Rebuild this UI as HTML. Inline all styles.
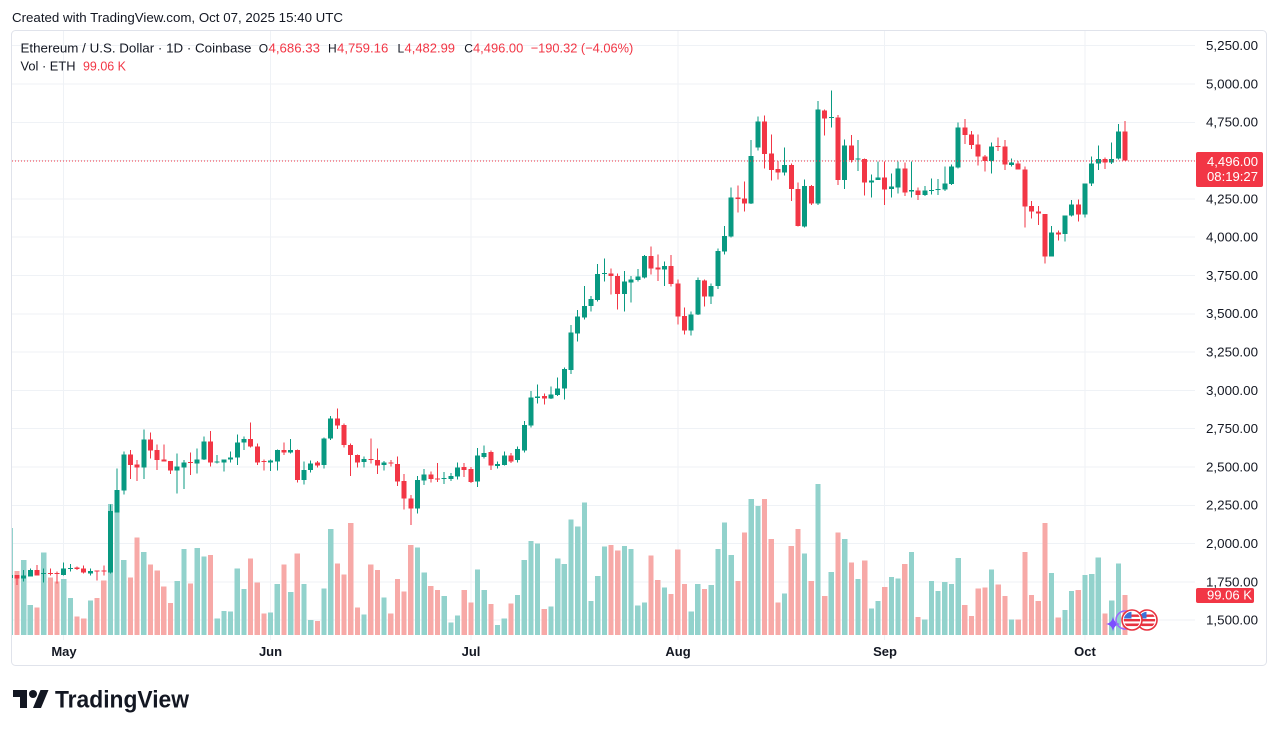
<!DOCTYPE html>
<html><head><meta charset="utf-8">
<style>
html,body{margin:0;padding:0;background:#fff;}
body{width:1280px;height:733px;overflow:hidden;}
svg{display:block;font-family:"Liberation Sans",Arial,sans-serif;}
</style></head>
<body>
<svg id="s" width="1280" height="733" viewBox="0 0 1280 733" xmlns="http://www.w3.org/2000/svg">
<defs>
<clipPath id="pane"><rect x="12" y="31" width="1183" height="609"/></clipPath>
<clipPath id="fc"><circle r="8.2"/></clipPath>
</defs>
<rect width="1280" height="733" fill="#fff"/>
<text x="12" y="22" font-size="13" fill="#131722" textLength="331" lengthAdjust="spacingAndGlyphs">Created with TradingView.com, Oct 07, 2025 15:40 UTC</text>
<rect x="11.5" y="30.5" width="1255" height="635" rx="4" fill="#fff" stroke="#e0e3eb"/>
<g id="grid" stroke="#eff2f6" stroke-width="1" shape-rendering="crispEdges"></g>
<g clip-path="url(#pane)">
<g id="vol" shape-rendering="crispEdges"></g>
<g id="cand" shape-rendering="crispEdges"></g>
</g>
<line x1="12" y1="161" x2="1195" y2="161" stroke="#F23645" stroke-width="1" stroke-dasharray="1,2"/>

<!-- legend -->
<g font-size="13" fill="#131722">
<text x="20.5" y="52.5" textLength="231" lengthAdjust="spacingAndGlyphs">Ethereum / U.S. Dollar · 1D · Coinbase</text>
<text x="258.8" y="52.5" font-size="12">O</text>
<text x="268.5" y="52.5" fill="#F23645" textLength="51.5" lengthAdjust="spacingAndGlyphs">4,686.33</text>
<text x="328" y="52.5" font-size="12">H</text>
<text x="337" y="52.5" fill="#F23645" textLength="51.3" lengthAdjust="spacingAndGlyphs">4,759.16</text>
<text x="397.5" y="52.5" font-size="12">L</text>
<text x="404.5" y="52.5" fill="#F23645" textLength="50.5" lengthAdjust="spacingAndGlyphs">4,482.99</text>
<text x="464.3" y="52.5" font-size="12">C</text>
<text x="473" y="52.5" fill="#F23645" textLength="50.3" lengthAdjust="spacingAndGlyphs">4,496.00</text>
<text x="530.7" y="52.5" fill="#F23645" textLength="102.6" lengthAdjust="spacingAndGlyphs">−190.32 (−4.06%)</text>
<text x="20.5" y="70.5" textLength="55" lengthAdjust="spacingAndGlyphs">Vol · ETH</text>
<text x="83" y="70.5" fill="#F23645" textLength="43" lengthAdjust="spacingAndGlyphs">99.06 K</text>
</g>

<g id="plabels" font-size="13" fill="#131722" text-anchor="end"></g>

<!-- current price label -->
<rect x="1196" y="152" width="67" height="35" rx="2" fill="#F23645"/>
<g font-size="13" fill="#fff" text-anchor="end">
<text x="1258" y="166" textLength="51" lengthAdjust="spacingAndGlyphs">4,496.00</text>
<text x="1258" y="181" textLength="51" lengthAdjust="spacingAndGlyphs">08:19:27</text>
</g>
<!-- volume label -->
<rect x="1196" y="588" width="58" height="15" rx="2" fill="#F23645"/>
<text x="1252" y="599.5" font-size="13" fill="#fff" text-anchor="end" textLength="45" lengthAdjust="spacingAndGlyphs">99.06 K</text>

<!-- time axis -->
<g font-size="13" font-weight="bold" fill="#131722" text-anchor="middle">
<text x="64" y="656">May</text>
<text x="270.5" y="656">Jun</text>
<text x="471" y="656">Jul</text>
<text x="678" y="656">Aug</text>
<text x="885" y="656">Sep</text>
<text x="1085" y="656">Oct</text>
</g>

<!-- event icons -->
<path d="M1113 616.5 Q1114 623 1120 624 Q1114 625 1113 631.5 Q1112 625 1106 624 Q1112 623 1113 616.5Z" fill="#7c4dff"/>
<circle cx="1125" cy="620" r="9" fill="none" stroke="#9b6bff" stroke-width="1.6"/>
<g transform="translate(1147,620)">
<circle r="10" fill="#fff" stroke="#e8323f" stroke-width="1.6"/>
<g clip-path="url(#fc)">
<rect x="-9" y="-9" width="18" height="18" fill="#fff"/>
<rect x="-9" y="-5.5" width="18" height="2.4" fill="#e8323f"/>
<rect x="-9" y="-1" width="18" height="2.4" fill="#e8323f"/>
<rect x="-9" y="3.5" width="18" height="2.6" fill="#e8323f"/>
<rect x="-9" y="-9" width="8.5" height="7.5" fill="#3d72d9"/>
</g></g>
<g transform="translate(1132,620)">
<circle r="10" fill="#fff" stroke="#e8323f" stroke-width="1.6"/>
<g clip-path="url(#fc)">
<rect x="-9" y="-9" width="18" height="18" fill="#fff"/>
<rect x="-9" y="-5.5" width="18" height="2.4" fill="#e8323f"/>
<rect x="-9" y="-1" width="18" height="2.4" fill="#e8323f"/>
<rect x="-9" y="3.5" width="18" height="2.6" fill="#e8323f"/>
<rect x="-9" y="-9" width="8.5" height="7.5" fill="#3d72d9"/>
</g></g>

<!-- logo -->
<g transform="translate(13,686)" fill="#131722"><path d="M14 22H7V11H0V4h14v18zM28 22h-8l7.5-18h8L28 22z"/><circle cx="20" cy="8" r="4"/></g>
<text x="55" y="707.5" font-size="24" font-weight="bold" fill="#131722" textLength="134" lengthAdjust="spacingAndGlyphs">TradingView</text>
</svg>
<script>
(function(){
var D=[
[1,575,578,573,580,528],
[0,575,578.3,575,585,571],
[1,575.7,578.3,570,581.7,560],
[1,570,576.7,568.3,576.7,605],
[0,570,575.7,565,575.7,607.7],
[1,573,574,568.3,582.7,552.3],
[0,573,574,568.3,575.7,577.3],
[0,573,574,571.7,583.3,581.7],
[1,568.3,575,562.3,575.7,579],
[1,568,569,564,571.7,598],
[0,567.7,569,566.7,570,616.3],
[0,568.3,572.7,565.7,573.3,618.3],
[1,571,573.3,568.3,575.7,600.3],
[0,570.7,571.7,570.7,580.7,598],
[0,570.7,571.7,565.7,575.7,580.3],
[1,511,572.3,504.3,573.3,504],
[1,490,512.3,468.3,512.3,506],
[1,454.3,490.7,451.7,494.3,560],
[0,454.3,465,450,479,577.3],
[0,464.3,467.7,460,481,537.3],
[1,439.3,467.7,429.3,479,552],
[0,439.3,450.7,432.3,458.3,564.7],
[0,450,460,444.3,470,570.3],
[0,459.3,461.7,444.3,461.7,586.3],
[0,461,470.7,461,474,603],
[1,466.7,470.7,453.3,493.3,581],
[1,462.7,467.3,460,489,549],
[0,462,463,452.7,475,583.7],
[1,459.3,463.3,448.3,473.3,548],
[1,441.7,459.3,436.7,460,556.7],
[0,441.7,462.7,431,466.7,555],
[1,461.3,462.3,455,463.3,618.3],
[1,459.3,462.3,459.3,471.7,611],
[1,457.3,459.3,451.7,462.7,611.7],
[1,442.3,457.3,434.3,465,568.3],
[1,439,442.3,436.7,450,589],
[0,439,446.7,422.7,447.7,558.7],
[0,446.7,462.7,443.3,465,582.7],
[0,461,462,459.3,470.7,613.7],
[1,460.7,462.7,459.3,471,612.7],
[1,450,461.7,449.3,470.7,584],
[0,450,452.3,442.7,455,564.7],
[1,450,452.3,439,453.3,592],
[0,450,480,449.3,482.7,553.3],
[1,470,480,461.7,484.3,584],
[1,463.3,470,460.7,472.7,620],
[0,462.7,465.3,461,467.7,621],
[1,438.3,465,437.7,468.3,588.7],
[1,418.3,438.3,416,440,529],
[0,418.3,425.7,408.3,429,563.7],
[0,425,445,423.3,447.7,574.7],
[0,445,455,443.3,476,523],
[0,455,462.3,454.3,467.7,607.7],
[1,459,462,456.7,467.7,614.3],
[0,459,460,438.3,463.3,564.7],
[0,460,465.7,448.3,474,570],
[1,462.3,465,461,470.7,597.3],
[0,462.3,463,460,466.7,613.7],
[0,464,481.7,456.7,486,579],
[0,481,498.3,474,509.3,591.7],
[0,498.3,508.3,495,525,545],
[1,480,508.3,476,513.3,547.7],
[1,474.3,480.7,469,485,572.7],
[0,474.3,479,471.7,482.3,586],
[0,478.5,479.5,463,482,590],
[1,478.2,479.2,472,484,596],
[1,476,479,473,481,622.7],
[1,467.7,476.7,462.7,479.3,615.7],
[0,467,470,463,477,590],
[0,469,482,467,483,602.7],
[1,455.7,481.7,448,487,569.3],
[1,453,457,445.7,458.3,590],
[0,452,465.7,450.7,470,604],
[1,464,466,461.7,468.3,625],
[1,455.7,465,451.7,465.7,618.3],
[0,455.7,461.7,453,463,603.3],
[1,449,460,446.7,462.7,595],
[1,425,450.7,421,452.3,560],
[1,397.7,425.7,391,427.3,541],
[1,396.7,398,384.3,403.3,543.3],
[0,396,398.7,393.3,404.3,609],
[1,394.3,398.7,386.7,399,606.7],
[1,388.3,395,377.3,396,558.3],
[1,369,388.3,367.7,399.3,564],
[1,332.7,370,325,374,519.3],
[1,316.7,333.3,310,341.7,526.7],
[1,306,317.7,286,319.3,502.7],
[1,299,306,296,311.7,601],
[1,274,300,264,301.7,576],
[1,272.8,273.8,258.3,281.7,546.7],
[0,273.3,276,268.3,294.3,545],
[0,276,294,273.3,309.3,550.7],
[1,281.7,294,271,311.7,546],
[1,279.3,282.7,276,302.3,549],
[1,276.7,280,269,281.7,605.7],
[1,256,277.7,255,278.3,602.7],
[0,256,268.3,246.7,274.3,555.7],
[0,267.7,269.3,254.3,281,580],
[1,266,269.3,261.7,286,587.3],
[0,266,284,255,286.7,594],
[0,283.3,316.7,279.3,324.3,549.7],
[0,316,330.7,307.7,334.3,584],
[1,314.3,330.7,311.7,335.7,611.7],
[1,280,314.3,277.7,315,584],
[0,280.7,296.7,279.3,306.7,589],
[1,286,296.7,283.3,304,585],
[1,251,286,248.3,289,549],
[1,236,251.7,226,254.3,522.3],
[1,197.3,236.7,187.3,237.7,555],
[0,197.3,199,185.7,212.7,581],
[0,198.3,203.3,181.7,211.7,532.7],
[1,156,203.3,140,204,499],
[1,121.7,147.7,116.7,150.7,506],
[0,121.7,154,115.7,168.3,499],
[0,153.3,170,134.3,180.7,539],
[0,169,172.3,161,179.3,602.3],
[1,165,172.3,147.7,175.7,593.3],
[0,165,189,163.3,201,546],
[0,189,226,182.7,226.7,529],
[1,186,226.7,179.3,227.3,553.3],
[0,186,203.3,185,205,581],
[1,109.3,203.3,101,205,484],
[0,110.7,118.3,109.3,135.7,596],
[1,116.8,117.8,90.7,127.3,572],
[0,117.3,180,115,185,532.7],
[1,145.7,180,139.3,189,539],
[0,145.7,160,135,162.7,562.3],
[1,158.5,159.5,140,171,579],
[0,159,182.7,158.3,195.7,560.3],
[1,180.7,182.7,174.3,197.7,608.3],
[1,177.7,180,161.7,180,601],
[0,177.3,189.3,161.7,205,587],
[1,186.7,189,173.3,197.3,577],
[1,168.3,187.3,161.7,193.3,578.3],
[0,168.3,192.3,162.3,196,564],
[1,190,191.7,161.7,197.7,552],
[0,190.7,195,187.3,200,617],
[1,190.7,195,186,196,619.3],
[1,190,191,178.3,194.3,581],
[1,189,190,179,195,591],
[1,183.3,189.3,166.7,191,582],
[1,166.7,184,164.3,185,584],
[1,127.7,167.3,122.7,168.3,558],
[0,127.7,135,119,144,605],
[0,134.3,145,131,149,616],
[0,144.3,156.7,134.3,165.7,588.3],
[0,156.7,161,155,171.7,587.3],
[1,146.7,161,142.3,173.3,569.3],
[0,146.2,147.2,137.7,151,584.3],
[0,146.7,164.3,140,170,596],
[1,162.7,165,158.3,166.7,619.3],
[0,163.3,169.3,161,169.3,619.3],
[0,169.3,206.7,166.7,227.7,552],
[0,206,211.7,201,218.3,595],
[0,211.7,213.5,206,225,601],
[0,214,256.7,214,263.3,523],
[1,232.3,256.7,226,256.7,573],
[0,232.3,234.3,230.7,240.7,617.3],
[1,215.3,234,215.3,241.7,610],
[1,204.3,215.3,200,216.7,591],
[0,204.3,214.3,199.3,221.7,590],
[1,183.3,214.3,183.3,217.7,575],
[1,163.3,183.3,156.7,186,574],
[1,159,163.3,145.7,170,557.7],
[0,159,162.7,157.7,169,613.7],
[1,159,162.7,142.3,164,600.3],
[1,131.7,158.3,124,159.3,563.3],
[0,131.7,160.6,121,160.6,595]
];
var G='#089981',R='#F23645',VG='#92d2cc',VR='#f7a9a7';
var v='',c='';
for(var k=0;k<D.length;k++){
 var d=D[k],i=k-8,cx=63.7+6.675*i;
 var col=d[0]?G:R, vc=d[0]?VG:VR;
 v+='<rect x="'+(cx-2.6).toFixed(2)+'" y="'+d[5]+'" width="5.2" height="'+(635-d[5]).toFixed(1)+'" fill="'+vc+'"/>';
 c+='<rect x="'+(cx-0.5).toFixed(2)+'" y="'+d[3]+'" width="1" height="'+(d[4]-d[3]).toFixed(1)+'" fill="'+col+'"/>';
 c+='<rect x="'+(cx-2.5).toFixed(2)+'" y="'+d[1]+'" width="5" height="'+Math.max(1,d[2]-d[1]).toFixed(1)+'" fill="'+col+'"/>';
}
document.getElementById('vol').innerHTML=v;
document.getElementById('cand').innerHTML=c;
var g='',p='';
var labels=['5,250.00','5,000.00','4,750.00','4,500.00','4,250.00','4,000.00','3,750.00','3,500.00','3,250.00','3,000.00','2,750.00','2,500.00','2,250.00','2,000.00','1,750.00','1,500.00'];
for(var j=0;j<labels.length;j++){
 var y=45.7+38.3*j;
 g+='<line x1="12" x2="1195" y1="'+y.toFixed(1)+'" y2="'+y.toFixed(1)+'"/>';
 if(labels[j]!=='4,500.00') p+='<text x="1258" y="'+(y+4.4).toFixed(1)+'" textLength="52" lengthAdjust="spacingAndGlyphs">'+labels[j]+'</text>';
}
[63.7,270.6,470.9,677.8,884.7,1085].forEach(function(x){g+='<line x1="'+x+'" x2="'+x+'" y1="31" y2="640"/>';});
document.getElementById('grid').innerHTML=g;
document.getElementById('plabels').innerHTML=p;
})();
</script>
</body></html>
